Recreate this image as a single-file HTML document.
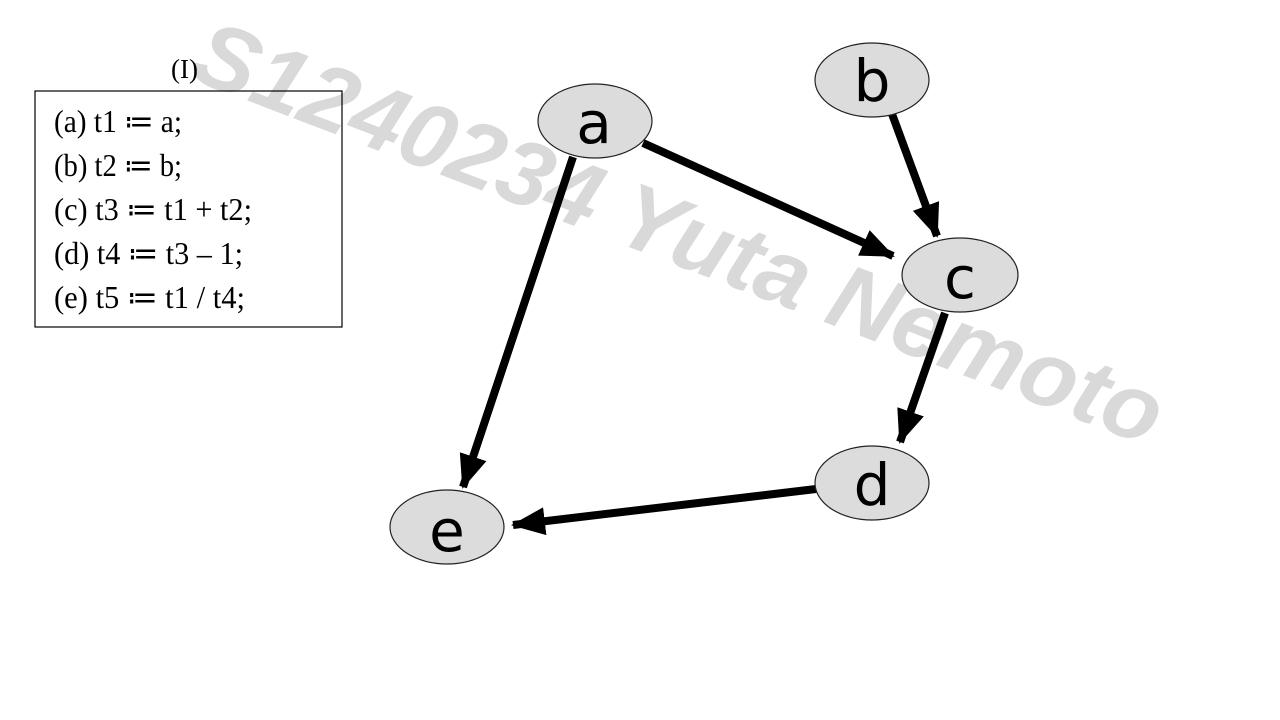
<!DOCTYPE html>
<html><head><meta charset="utf-8"><style>
html,body{margin:0;padding:0;background:#fff;width:1280px;height:720px;overflow:hidden}
svg{display:block}
</style></head><body>
<svg width="1280" height="720" viewBox="0 0 1280 720" xmlns="http://www.w3.org/2000/svg">
<defs>
<marker id="ah" markerUnits="userSpaceOnUse" markerWidth="34" markerHeight="28" refX="32" refY="14" orient="auto">
<path d="M0,0 L34,14 L0,28 Z" fill="#000"/>
</marker>
</defs>
<text x="0" y="0" transform="translate(668,262) rotate(21)" text-anchor="middle" font-family="Liberation Sans, sans-serif" font-weight="bold" font-style="italic" font-size="92" textLength="1030" lengthAdjust="spacingAndGlyphs" fill="#d9d9d9">S1240234 Yuta Nemoto</text>

<g font-family="Liberation Serif, serif" font-size="32" fill="#000">
<text x="171" y="78" font-size="27">(I)</text>
<rect x="35" y="91" width="307" height="236" fill="none" stroke="#000" stroke-width="1.2"/>
<text x="54" y="132" textLength="128" lengthAdjust="spacingAndGlyphs">(a) t1 ≔ a;</text>
<text x="54" y="176" textLength="128" lengthAdjust="spacingAndGlyphs">(b) t2 ≔ b;</text>
<text x="54" y="220" textLength="198" lengthAdjust="spacingAndGlyphs">(c) t3 ≔ t1 + t2;</text>
<text x="54" y="264" textLength="189" lengthAdjust="spacingAndGlyphs">(d) t4 ≔ t3 – 1;</text>
<text x="54" y="308" textLength="191" lengthAdjust="spacingAndGlyphs">(e) t5 ≔ t1 / t4;</text>
</g>

<g stroke="#000" stroke-width="8" fill="none">
<line x1="643" y1="143" x2="893" y2="256" marker-end="url(#ah)"/>
<line x1="892" y1="114" x2="937" y2="236" marker-end="url(#ah)"/>
<line x1="945" y1="313" x2="900" y2="442" marker-end="url(#ah)"/>
<line x1="573" y1="157" x2="463" y2="487" marker-end="url(#ah)"/>
<line x1="816" y1="489" x2="513" y2="525" marker-end="url(#ah)"/>
</g>

<g fill="#dcdcdc" stroke="#222" stroke-width="1.2">
<ellipse cx="595" cy="121" rx="57" ry="37"/>
<ellipse cx="872" cy="80" rx="57" ry="37"/>
<ellipse cx="960" cy="275" rx="58" ry="37"/>
<ellipse cx="872" cy="483" rx="57" ry="37"/>
<ellipse cx="447" cy="527" rx="57" ry="37"/>
</g>
<g font-family="DejaVu Sans, Liberation Sans, sans-serif" font-size="58" fill="#000" text-anchor="middle">
<text x="594" y="143">a</text>
<text x="872" y="101">b</text>
<text x="960" y="298">c</text>
<text x="872" y="505">d</text>
<text x="447" y="551">e</text>
</g>
</svg>
</body></html>
